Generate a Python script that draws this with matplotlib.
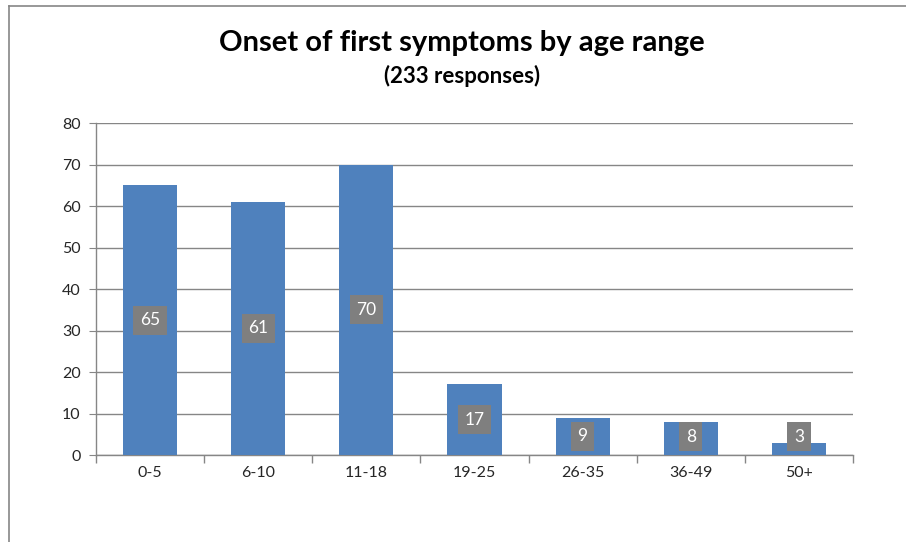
import matplotlib
matplotlib.use('Agg')
import matplotlib.pyplot as plt
from matplotlib.lines import Line2D

# data
categories = ['0-5', '6-10', '11-18', '19-25', '26-35', '36-49', '50+']
counts = [65, 61, 70, 17, 9, 8, 3]
title = 'Onset of first symptoms by age range'
subtitle = '(233 responses)'

plt.rcParams['font.family'] = ['Lato', 'DejaVu Sans']

fig = plt.figure(figsize=(9.06, 5.42), dpi=100)
ax = fig.add_axes([0.106, 0.1605, 0.8355, 0.6125])

x = range(len(categories))
ax.bar(x, counts, width=0.5, color='#4F81BD', zorder=3)

for xi, v in zip(x, counts):
    ypos = max(v / 2, 4.4)
    ax.text(xi, ypos, str(v), ha='center', va='center', fontsize=12.5,
            color='white', zorder=4,
            bbox=dict(boxstyle='square,pad=0.38', facecolor='#7F7F7F',
                      edgecolor='none'))

ax.set_xlim(-0.5, len(categories) - 0.5)
ax.set_ylim(0, 80)
ax.set_yticks(range(0, 81, 10))
ax.set_xticks(list(x))
ax.set_xticklabels(categories)
ax.set_xticks([i - 0.5 for i in range(len(categories) + 1)], minor=True)
ax.tick_params(axis='x', which='major', length=0, pad=8, labelsize=11.5,
               labelcolor='#262626')
ax.tick_params(axis='x', which='minor', length=6, color='#868686', width=1)
ax.tick_params(axis='y', length=5, color='#868686', labelsize=11.5,
               labelcolor='#262626', pad=6)
ax.yaxis.grid(True, color='#868686', linewidth=1, zorder=0)
for s in ['top', 'right']:
    ax.spines[s].set_visible(False)
for s in ['left', 'bottom']:
    ax.spines[s].set_color('#868686')
    ax.spines[s].set_linewidth(1)

fig.text(0.51, 0.921, title, ha='center', va='center', fontsize=21,
         fontweight='bold', color='black')
fig.text(0.51, 0.86, subtitle, ha='center', va='center', fontsize=16,
         fontweight='bold', color='black')

# chart area border (left and top visible)
fig.add_artist(Line2D([9 / 906, 9 / 906], [0, 1 - 6 / 542], color='#868686',
                      linewidth=1.2, transform=fig.transFigure))
fig.add_artist(Line2D([9 / 906, 1], [1 - 6 / 542, 1 - 6 / 542], color='#868686',
                      linewidth=1.2, transform=fig.transFigure))

fig.savefig('out.png', dpi=100)
